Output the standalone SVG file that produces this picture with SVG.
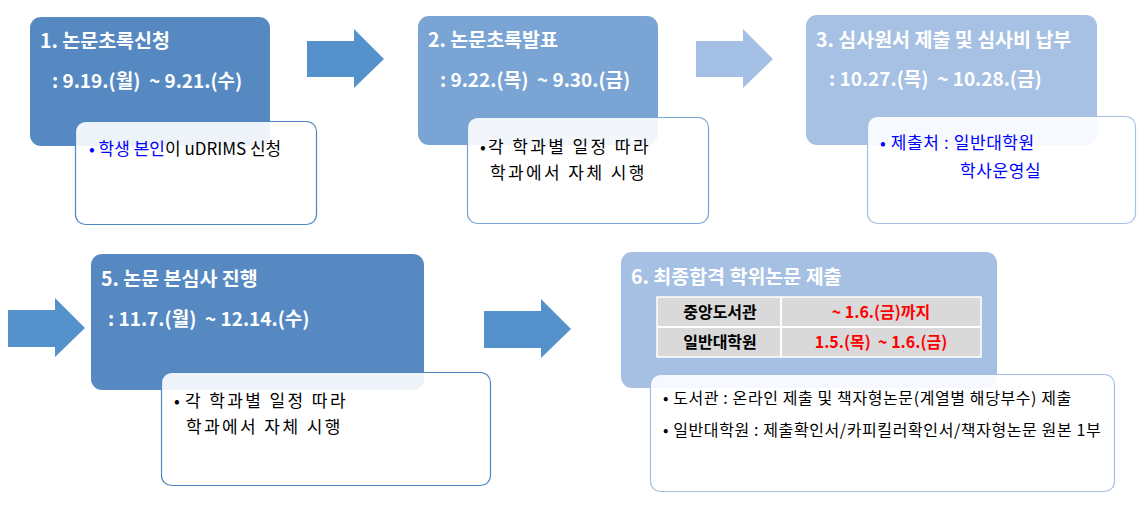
<svg xmlns="http://www.w3.org/2000/svg" width="1141" height="508" viewBox="0 0 1141 508">
<style>
.t{font-family:"Noto Sans CJK KR","Noto Sans",sans-serif;font-weight:bold;font-size:19.5px;fill:#fff}
.d{font-family:"Noto Sans CJK KR","Noto Sans",sans-serif;font-weight:bold;font-size:19px;fill:#fff}
.b{font-family:"Noto Sans CJK KR","Noto Sans",sans-serif;font-size:17px;fill:#000}
.w{letter-spacing:2.4px}
.s{font-family:"Noto Sans CJK KR","Noto Sans",sans-serif;font-size:16px;letter-spacing:0.6px;fill:#000}
.c{font-family:"Noto Sans CJK KR","Noto Sans",sans-serif;font-weight:bold;font-size:16px;text-anchor:middle}
.blue{fill:#0000ff}
.sub{fill:#fff;fill-opacity:0.9;stroke-width:1.2}
</style>
<rect width="1141" height="508" fill="#fff"/>
<g id="connectors">
<polygon points="307,41 354,41 354,29 384,59 354,88 354,77 307,77" fill="#5591cb"/>
<polygon points="696,41 743,41 743,29 773,59 743,88 743,77 696,77" fill="#a4c0e4"/>
<polygon points="8,310 55,310 55,298 85,328 55,357 55,347 8,347" fill="#5591cb"/>
<polygon points="484,311 541,311 541,299 571,329 541,358 541,348 484,348" fill="#5591cb"/>
</g>
<g id="n1">
<rect x="30" y="17" width="240" height="129" rx="11" fill="#5689c2"/>
<text class="t" x="40" y="48">1. 논문초록신청</text>
<text class="d" x="52" y="88">: 9.19.(월)&#160; ~ 9.21.(수)</text>
<rect class="sub" x="75.5" y="121.5" width="241" height="103" rx="10" stroke="#4f87c0"/>
<text class="b" x="89" y="155"><tspan class="blue">• 학생 본인</tspan>이 uDRIMS 신청</text>
</g>
<g id="n2">
<rect x="418" y="16" width="240" height="129" rx="11" fill="#79a4d3"/>
<text class="t" x="428" y="47">2. 논문초록발표</text>
<text class="d" x="440" y="87">: 9.22.(목)&#160; ~ 9.30.(금)</text>
<rect class="sub" x="467.5" y="117.5" width="241" height="106" rx="10" stroke="#79a4d3"/>
<text class="b" x="480" y="153">•</text>
<text class="b w" x="488" y="153">각 학과별 일정 따라</text>
<text class="b w" x="490" y="179">학과에서 자체 시행</text>
</g>
<g id="n3">
<rect x="806" y="15" width="291" height="130" rx="11" fill="#a6c1e3"/>
<text class="t" x="816" y="47">3. 심사원서 제출 및 심사비 납부</text>
<text class="d" x="829" y="86">: 10.27.(목)&#160; ~ 10.28.(금)</text>
<rect class="sub" x="867.5" y="116.5" width="268" height="107" rx="10" stroke="#a6c1e3"/>
<text class="b blue" x="880" y="149" letter-spacing="0.6">• 제출처 : 일반대학원</text>
<text class="b blue" x="960" y="177" letter-spacing="0.6">학사운영실</text>
</g>
<g id="n5">
<rect x="91" y="254" width="333" height="136" rx="11" fill="#5689c2"/>
<text class="t" x="101" y="286">5. 논문 본심사 진행</text>
<text class="d" x="108" y="326">: 11.7.(월)&#160; ~ 12.14.(수)</text>
<rect class="sub" x="161.5" y="372.5" width="329" height="113" rx="10" stroke="#4f87c0"/>
<text class="b" x="174" y="407">•</text>
<text class="b w" x="185" y="407">각 학과별 일정 따라</text>
<text class="b w" x="186" y="433">학과에서 자체 시행</text>
</g>
<g id="n6">
<rect x="621" y="252" width="376" height="136" rx="11" fill="#a5c0e3"/>
<text class="t" x="631" y="284">6. 최종합격 학위논문 제출</text>
<rect x="657" y="297" width="324" height="60" fill="#d9d9d9" stroke="#fff" stroke-width="1.5"/>
<line x1="657" y1="327" x2="981" y2="327" stroke="#fff" stroke-width="2"/>
<line x1="781" y1="297" x2="781" y2="357" stroke="#fff" stroke-width="2"/>
<text class="c" x="720" y="318" fill="#000">중앙도서관</text>
<text class="c" x="881" y="318" fill="#ff0000">~ 1.6.(금)까지</text>
<text class="c" x="720" y="348" fill="#000">일반대학원</text>
<text class="c" x="881" y="348" fill="#ff0000">1.5.(목)&#160; ~ 1.6.(금)</text>
<rect class="sub" x="650.5" y="374.5" width="464" height="117" rx="10" stroke="#a5c0e3"/>
<text class="s" x="663" y="404">• 도서관 : 온라인 제출 및 책자형논문(계열별 해당부수) 제출</text>
<text class="s" x="663" y="436">• 일반대학원 : 제출확인서/카피킬러확인서/책자형논문 원본 1부</text>
</g>
</svg>
